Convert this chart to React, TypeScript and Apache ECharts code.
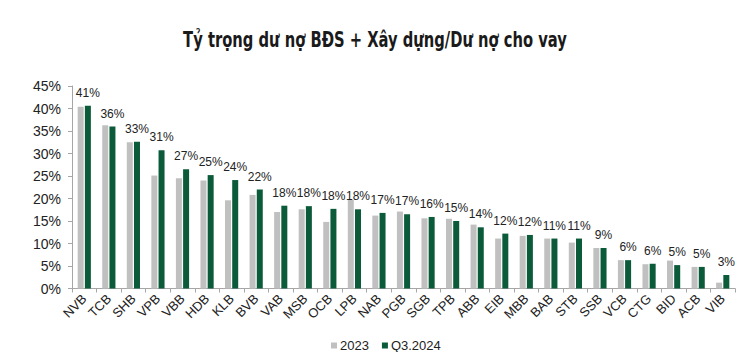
import React, { useEffect, useRef } from "react";
import * as echarts from "echarts";

const categories = ["NVB","TCB","SHB","VPB","VBB","HDB","KLB","BVB","VAB","MSB","OCB","LPB","NAB","PGB","SGB","TPB","ABB","EIB","MBB","BAB","STB","SSB","VCB","CTG","BID","ACB","VIB"];
const values2023 = [40.4,36.3,32.5,25.1,24.5,24.0,19.6,20.8,17.0,17.6,14.8,19.7,16.2,17.1,15.6,15.5,14.2,11.1,11.7,11.1,10.2,9.0,6.3,5.4,6.2,4.8,1.3];
const valuesQ32024 = [40.6,36.0,32.6,30.7,26.5,25.2,24.1,22.0,18.4,18.3,17.7,17.6,16.8,16.5,15.9,15.0,13.6,12.2,11.9,11.1,11.1,9.0,6.3,5.5,5.2,4.8,3.0];
const seriesNames = ["2023", "Q3.2024"];
const titleText = "Tỷ trọng dư nợ BĐS + Xây dựng/Dư nợ cho vay";

const GRAY = "#c0c0c0";
const GREEN = "#0b5b3a";
const FONT = "Liberation Sans, Arial, sans-serif";

export default function App() {
  const ref = useRef<HTMLDivElement>(null);
  useEffect(() => {
    if (!ref.current) return;
    const chart = echarts.init(ref.current, null, { renderer: "svg" });
    chart.setOption({
      animation: false,
      backgroundColor: "#ffffff",
      graphic: [
        {
          type: "text",
          x: 375,
          y: 40,
          scaleX: 0.78,
          style: {
            text: titleText,
            fontFamily: "DejaVu Sans Condensed, DejaVu Sans, sans-serif",
            fontWeight: "bold",
            fontSize: 21,
            fill: "#1a1a1a",
            textAlign: "center",
            textVerticalAlign: "middle",
          },
        },
      ],
      legend: {
        data: seriesNames,
        left: 326,
        top: 334,
        itemWidth: 6,
        itemHeight: 6,
        itemGap: 13,
        icon: "rect",
        textStyle: { fontFamily: FONT, fontSize: 13, color: "#222", padding: [0, 0, 0, -2] },
      },
      grid: { left: 72, right: 15, top: 86, bottom: 63.5 },
      xAxis: {
        type: "category",
        data: categories,
        axisLine: { lineStyle: { color: "#a6a6a6", width: 1 } },
        axisTick: { show: true, length: 4, lineStyle: { color: "#a6a6a6" } },
        axisLabel: {
          rotate: 45,
          margin: 8,
          interval: 0,
          fontFamily: FONT,
          fontSize: 13,
          color: "#222",
        },
      },
      yAxis: {
        type: "value",
        min: 0,
        max: 45,
        interval: 5,
        splitLine: { show: false },
        axisLine: { show: true, lineStyle: { color: "#a6a6a6", width: 1 } },
        axisTick: { show: true, length: 4, lineStyle: { color: "#a6a6a6" } },
        axisLabel: {
          margin: 11,
          fontFamily: FONT,
          fontSize: 14,
          color: "#222",
          formatter: (v: number) => v + "%",
        },
      },
      series: [
        {
          name: seriesNames[0],
          type: "bar",
          data: values2023,
          barWidth: 6,
          barGap: "20%",
          itemStyle: { color: GRAY },
        },
        {
          name: seriesNames[1],
          type: "bar",
          data: valuesQ32024,
          barWidth: 6,
          barGap: "20%",
          itemStyle: { color: GREEN },
          label: {
            show: true,
            position: "top",
            distance: 7,
            fontFamily: FONT,
            fontSize: 12,
            color: "#222",
            formatter: (p: any) => Math.round(p.value) + "%",
          },
        },
      ],
    });
    return () => chart.dispose();
  }, []);
  return (
    <div
      ref={ref}
      style={{ position: "fixed", left: 0, top: 0, width: 750, height: 352 }}
    />
  );
}
